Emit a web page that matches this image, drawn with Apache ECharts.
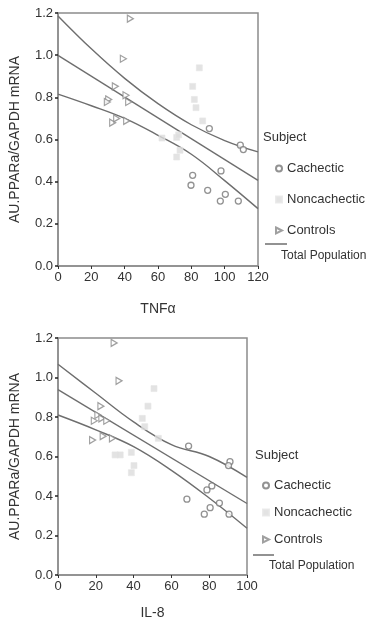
<!DOCTYPE html>
<html>
<head>
<meta charset="utf-8">
<script src="https://cdn.jsdelivr.net/npm/echarts@6/dist/echarts.min.js"></script>
<style>
  html, body { margin: 0; padding: 0; background: #fff; }
  #chart { width: 368px; height: 624px; }
</style>
</head>
<body>
<div id="chart"></div>
<script>
// values
// panel 1: TNFa
const tnfCachX = [90.8, 109.4, 111.2, 97.8, 80.8, 79.8, 89.8, 100.4, 97.4, 108.2];
const tnfCachY = [0.652, 0.573, 0.552, 0.451, 0.43, 0.383, 0.359, 0.34, 0.308, 0.308];
const tnfNonX = [84.8, 80.8, 81.8, 82.8, 86.8, 62.4, 71.2, 72.4, 73.2, 71.2];
const tnfNonY = [0.94, 0.852, 0.79, 0.751, 0.688, 0.607, 0.61, 0.622, 0.549, 0.517];
const tnfCtrlX = [43.4, 39.2, 34.4, 40.8, 42.4, 30.4, 29.6, 32.8, 35.2, 41.2];
const tnfCtrlY = [1.173, 0.983, 0.852, 0.81, 0.778, 0.79, 0.778, 0.68, 0.70, 0.688];
const tnfFitX = [0, 120];
const tnfFitY = [0.999, 0.406];
const tnfBandX = [0, 20, 40, 60, 80, 100, 120];
const tnfUpper = [1.186, 1.03, 0.89, 0.77, 0.67, 0.595, 0.541];
const tnfLower = [0.815, 0.76, 0.70, 0.62, 0.53, 0.405, 0.272];

// panel 2: IL-8
const ilCachX = [69.1, 91, 90.2, 81.4, 78.8, 68.2, 85.4, 80.5, 77.4, 90.5];
const ilCachY = [0.653, 0.574, 0.554, 0.451, 0.431, 0.384, 0.364, 0.341, 0.308, 0.308];
const ilNonX = [50.8, 47.6, 44.6, 45.9, 53.1, 30.2, 32.9, 38.8, 40.2, 38.8];
const ilNonY = [0.944, 0.855, 0.793, 0.751, 0.692, 0.608, 0.608, 0.621, 0.554, 0.518];
const ilCtrlX = [29.7, 32.3, 22.7, 21.1, 19.2, 23.2, 25.8, 18.3, 23.9, 28.8];
const ilCtrlY = [1.175, 0.983, 0.855, 0.81, 0.781, 0.793, 0.781, 0.683, 0.703, 0.692];
const ilFitX = [0, 100];
const ilFitY = [0.939, 0.362];
const ilBandX = [0, 20, 40, 60, 80, 100];
const ilUpper = [1.067, 0.92, 0.775, 0.66, 0.60, 0.494];
const ilLower = [0.81, 0.735, 0.65, 0.53, 0.39, 0.237];

const yTicks = [0, 0.2, 0.4, 0.6, 0.8, 1.0, 1.2];
const groups = ['Cachectic', 'Noncachectic', 'Controls'];

const pairs = (xs, ys) => xs.map((x, i) => [x, ys[i]]);
const font = 'Liberation Sans, Arial, sans-serif';
const frame = '#8c8c8c';
const lineColor = '#6e6e6e';
const triangle = 'path://M0,0L10,5L0,10Z';

function xAxis(idx, max, name, gap) {
    return {
        type: 'value', gridIndex: idx, min: 0, max: max, interval: 20,
        name: name, nameLocation: 'middle', nameGap: gap,
        nameTextStyle: { fontFamily: font, fontSize: 14, color: '#333' },
        axisLine: { show: true, lineStyle: { color: frame, width: 1.5 } },
        axisTick: { show: true, length: 3, lineStyle: { color: '#333' } },
        axisLabel: { margin: 5, fontFamily: font, fontSize: 13, color: '#333' },
        splitLine: { show: false }
    };
}

function yAxis(idx) {
    return {
        type: 'value', gridIndex: idx, min: 0, max: 1.2, interval: 0.2,
        name: 'AU.PPARa/GAPDH mRNA', nameLocation: 'middle', nameGap: 36,
        nameTextStyle: { fontFamily: font, fontSize: 14, color: '#333' },
        axisLine: { show: true, lineStyle: { color: frame, width: 1.5 } },
        axisTick: { show: true, length: 3, lineStyle: { color: '#222', width: 1.5 } },
        axisLabel: {
            margin: 5, fontFamily: font, fontSize: 13, color: '#333',
            formatter: v => yTicks.includes(+v.toFixed(1)) ? v.toFixed(1) : ''
        },
        splitLine: { show: false }
    };
}

function scatterSet(idx, cach, non, ctrl) {
    return [
        {
            name: 'Cachectic', type: 'scatter', xAxisIndex: idx, yAxisIndex: idx,
            data: cach, symbol: 'circle', symbolSize: 6,
            itemStyle: { color: '#fff', borderColor: '#777', borderWidth: 1.3 }
        },
        {
            name: 'Noncachectic', type: 'scatter', xAxisIndex: idx, yAxisIndex: idx,
            data: non, symbol: 'rect', symbolSize: 6,
            itemStyle: { color: '#dcdcdc', borderColor: '#e6e6e6', borderWidth: 0.8 }
        },
        {
            name: 'Controls', type: 'scatter', xAxisIndex: idx, yAxisIndex: idx,
            data: ctrl, symbol: triangle, symbolSize: [6, 7],
            itemStyle: { color: '#fff', borderColor: '#888', borderWidth: 1.2 }
        }
    ];
}

function lineSet(idx, fit, upper, lower) {
    const base = {
        type: 'line', xAxisIndex: idx, yAxisIndex: idx, symbol: 'none',
        silent: true, lineStyle: { color: lineColor, width: 1.4 }, z: 1
    };
    return [
        Object.assign({ name: 'Total Population', data: fit }, base),
        Object.assign({ name: 'Upper', data: upper, smooth: 0.4 }, base),
        Object.assign({ name: 'Lower', data: lower, smooth: 0.4 }, base)
    ];
}

function legend(left, top, gap) {
    return {
        orient: 'vertical', left: left, top: top, itemGap: gap,
        itemWidth: 6, itemHeight: 6, data: groups, selectedMode: false,
        textStyle: { fontFamily: font, fontSize: 13, color: '#333' }
    };
}

const labelStyle = { fontFamily: font, fontSize: 13, fill: '#333' };

const chart = echarts.init(document.getElementById('chart'));
chart.setOption({
    animation: false,
    backgroundColor: '#fff',
    grid: [
        { left: 57, top: 13, width: 201, height: 253, show: true, borderColor: frame, borderWidth: 1.5 },
        { left: 57, top: 338, width: 190, height: 237, show: true, borderColor: frame, borderWidth: 1.5 }
    ],
    xAxis: [xAxis(0, 120, 'TNFα', 36), xAxis(1, 100, 'IL-8', 31)],
    yAxis: [yAxis(0), yAxis(1)],
    legend: [legend(270, 157, 18), legend(257, 474, 14)],
    graphic: [
        { type: 'text', left: 263, top: 131, style: Object.assign({ text: 'Subject' }, labelStyle) },
        { type: 'line', shape: { x1: 265, y1: 244, x2: 287, y2: 244 }, style: { stroke: lineColor, lineWidth: 1.5 } },
        { type: 'text', left: 281, top: 250, style: Object.assign({ text: 'Total Population' }, labelStyle, { fontSize: 12 }) },
        { type: 'text', left: 255, top: 449, style: Object.assign({ text: 'Subject' }, labelStyle) },
        { type: 'line', shape: { x1: 253, y1: 555, x2: 274, y2: 555 }, style: { stroke: lineColor, lineWidth: 1.5 } },
        { type: 'text', left: 269, top: 560, style: Object.assign({ text: 'Total Population' }, labelStyle, { fontSize: 12 }) }
    ],
    series: [].concat(
        lineSet(0, pairs(tnfFitX, tnfFitY), pairs(tnfBandX, tnfUpper), pairs(tnfBandX, tnfLower)),
        scatterSet(0, pairs(tnfCachX, tnfCachY), pairs(tnfNonX, tnfNonY), pairs(tnfCtrlX, tnfCtrlY)),
        lineSet(1, pairs(ilFitX, ilFitY), pairs(ilBandX, ilUpper), pairs(ilBandX, ilLower)),
        scatterSet(1, pairs(ilCachX, ilCachY), pairs(ilNonX, ilNonY), pairs(ilCtrlX, ilCtrlY))
    )
});

window.addEventListener('resize', function () {
    chart.resize();
});
</script>
</body>
</html>
